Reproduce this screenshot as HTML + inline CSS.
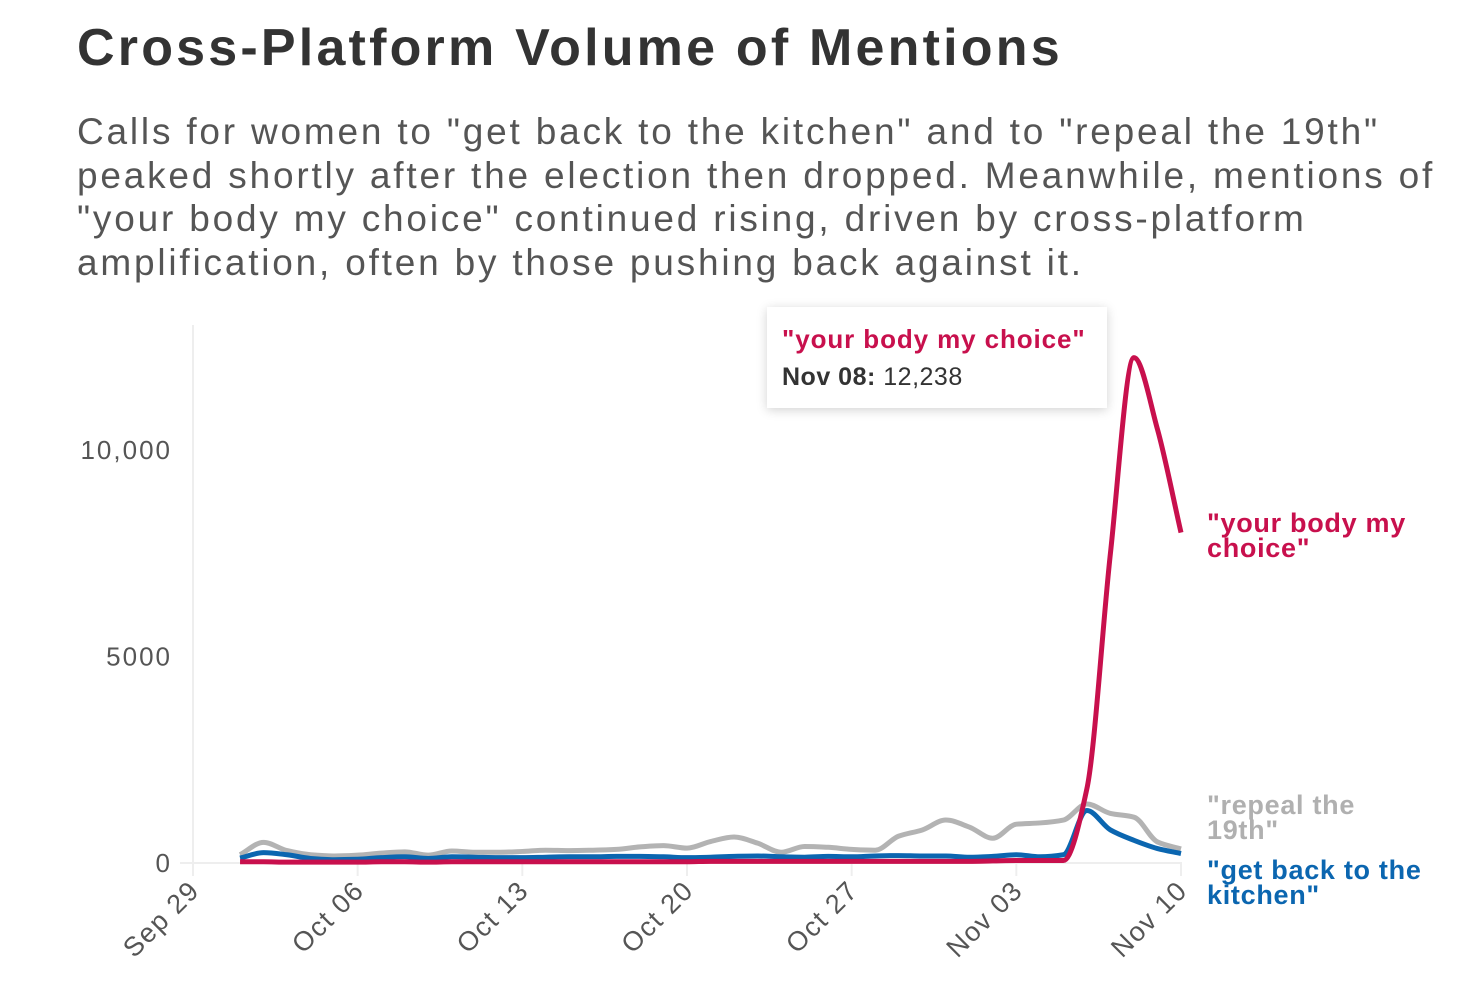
<!DOCTYPE html>
<html><head><meta charset="utf-8"><style>
body{margin:0;width:1462px;height:988px;background:#fff;overflow:hidden;font-family:"Liberation Sans",sans-serif;position:relative}
#title{position:absolute;left:77px;top:18px;font-size:52px;font-weight:bold;color:#333;letter-spacing:3.2px;white-space:nowrap}
#sub{position:absolute;left:77px;top:110px;font-size:37px;line-height:43.5px;color:#555;width:1400px;letter-spacing:2.8px;white-space:nowrap}
svg{position:absolute;left:0;top:0}
#tip{position:absolute;left:767px;top:307px;width:340px;height:101px;background:#fff;box-shadow:0 2px 10px rgba(0,0,0,0.18);box-sizing:border-box;padding:17px 15px}
#tip .a{color:#c8104d;font-weight:bold;font-size:26px;letter-spacing:0.9px}
#tip .b{color:#333;font-size:25px;margin-top:8px;letter-spacing:0.5px}
.lab{position:absolute;font-weight:bold;font-size:27px;line-height:25px;left:1207px;letter-spacing:0.7px}
</style></head><body>
<div id="title">Cross-Platform Volume of Mentions</div>
<div id="sub">Calls for women to "get back to the kitchen" and to "repeal the 19th"<br>peaked shortly after the election then dropped. Meanwhile, mentions of<br>"your body my choice" continued rising, driven by cross-platform<br>amplification, often by those pushing back against it.</div>
<svg id="chart" width="1462" height="988"></svg>
<div id="tip"><div class="a">"your body my choice"</div><div class="b"><b>Nov 08:</b> 12,238</div></div>
<div class="lab" style="top:511px;color:#c8104d">"your body my<br>choice"</div>
<div class="lab" style="top:793px;color:#b0b0b0">"repeal the<br>19th"</div>
<div class="lab" style="top:858px;color:#0b66b0">"get back to the<br>kitchen"</div>
<script>
const startDay = 2; // Oct 1 = day 2 from Sep 29
const gray = [200,500,300,200,170,190,240,270,190,290,260,260,280,310,300,310,330,390,420,360,520,630,480,260,400,380,330,310,650,800,1040,870,600,940,970,1040,1430,1200,1110,510,340];
const blue = [120,250,200,110,80,90,130,150,110,150,140,130,130,140,150,150,160,160,150,130,140,160,170,150,140,160,150,170,180,170,170,140,160,200,150,200,1270,800,550,350,230];
const red = [30,30,20,20,20,20,30,30,20,30,30,30,30,30,30,30,30,30,30,30,40,40,40,40,40,40,40,40,40,40,40,40,50,60,60,60,1800,7500,12238,10500,8000];
const yTicks = [0,5000,10000];
const yTickLabels = ["0","5000","10,000"];
const xTickLabels = ["Sep 29","Oct 06","Oct 13","Oct 20","Oct 27","Nov 03","Nov 10"];
const NS="http://www.w3.org/2000/svg";
const svg=document.getElementById('chart');
const x=d=>193+d*(988/42);
const y=v=>863-v*0.0413;
function mk(t,a){const e=document.createElementNS(NS,t);for(const k in a)e.setAttribute(k,a[k]);svg.appendChild(e);return e;}
let e=mk('line',{x1:193,x2:193,y1:325,y2:863,stroke:'#eee','stroke-width':2});


e=mk('line',{x1:180,x2:1182,y1:863,y2:863,stroke:'#eee','stroke-width':2});


yTicks.forEach((v,i)=>{const t=mk('text',{x:172,y:y(v)+9,'text-anchor':'end','font-size':26,fill:'#555','font-family':'Liberation Sans','letter-spacing':2});t.textContent=yTickLabels[i];

});
xTickLabels.forEach((l,i)=>{const px=x(i*7);
const tk=mk('line',{x1:px,x2:px,y1:864,y2:876,stroke:'#eee','stroke-width':2});


const t=mk('text',{x:0,y:0,'text-anchor':'end','font-size':27,fill:'#555','font-family':'Liberation Sans','letter-spacing':1.5,transform:`translate(${px+8},${892}) rotate(-45)`});t.textContent=l;

});
function mono(pts){const n=pts.length;const dx=[],m=[],t=[];
for(let i=0;i<n-1;i++){dx[i]=pts[i+1][0]-pts[i][0];m[i]=(pts[i+1][1]-pts[i][1])/dx[i];}
t[0]=m[0];t[n-1]=m[n-2];
for(let i=1;i<n-1;i++){if(m[i-1]*m[i]<=0)t[i]=0;else{t[i]=3*(dx[i-1]+dx[i])/((2*dx[i]+dx[i-1])/m[i-1]+(dx[i]+2*dx[i-1])/m[i]);}}
let d=`M${pts[0][0]},${pts[0][1]}`;
for(let i=0;i<n-1;i++){const h=dx[i]/3;d+=`C${pts[i][0]+h},${pts[i][1]+h*t[i]} ${pts[i+1][0]-h},${pts[i+1][1]-h*t[i+1]} ${pts[i+1][0]},${pts[i+1][1]}`;}
return d;}
function series(arr,col,name){const pts=arr.map((v,i)=>[x(startDay+i),y(v)]);
const p=mk('path',{d:mono(pts),fill:'none',stroke:col,'stroke-width':5,'stroke-linejoin':'round'});

}
series(gray,'#b3b3b3','line-repeal-19th');
series(blue,'#0b66b0','line-get-back-kitchen');
series(red,'#c8104d','line-your-body-my-choice');
const tri=mk('path',{d:'M1106,350 L1120,370 L1106,390 Z',fill:'#fff'});


</script>
</body></html>
